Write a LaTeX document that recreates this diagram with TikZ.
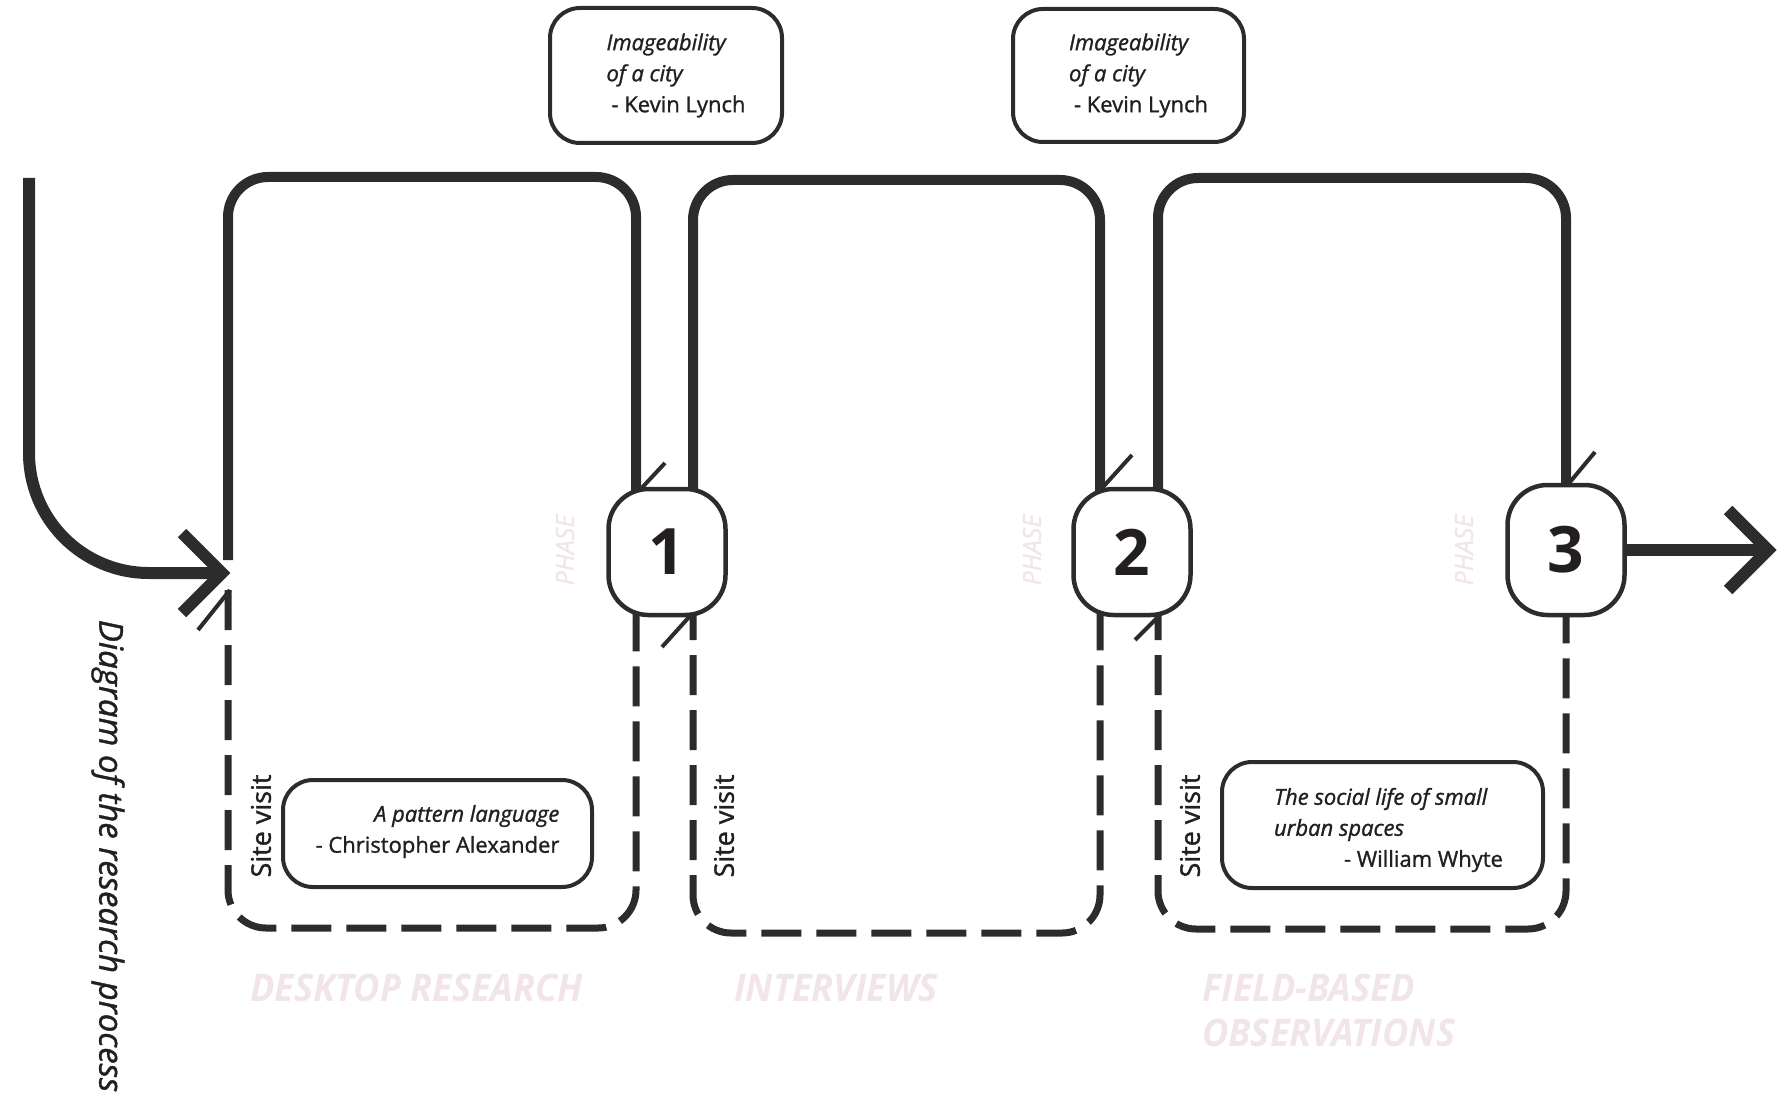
\documentclass[tikz,border=0pt]{standalone}
\usepackage{fontspec}
\setmainfont{Open Sans}[UprightFeatures={FakeBold=1.2}, ItalicFeatures={FakeBold=1.2}]
\newfontfamily\stagefont[FakeStretch=0.95]{Open Sans}
\usetikzlibrary{calc}
\definecolor{ink}{RGB}{43,45,44}
\definecolor{txt}{RGB}{35,31,32}
\definecolor{faint}{RGB}{241,228,235}
\begin{document}
\begin{tikzpicture}[x=1pt,y=-1pt,
  flow/.style={draw=ink, line width=12pt},
  flowtip/.style={draw=ink, line width=12pt, line join=miter, miter limit=10},
  loopsolid/.style={draw=ink, line width=10pt, rounded corners=40pt},
  loopdash/.style={draw=ink, line width=7pt, rounded corners=38pt, dash pattern=on 40pt off 15pt},
  barb/.style={draw=ink, line width=4pt},
  phasenode/.style={draw=ink, line width=4.5pt, fill=white, rounded corners=40pt,
    minimum width=117pt, minimum height=126pt, inner sep=0pt,
    font=\fontsize{64}{64}\selectfont\bfseries, text=txt},
  quotebox/.style={draw=ink, line width=4pt, fill=white, rounded corners=30pt, inner sep=0pt},
  quotetext/.style={inner sep=0pt, font=\fontsize{22}{31}\selectfont, text=txt},
  sitevisit/.style={rotate=90, font=\fontsize{27}{27}\selectfont, text=txt, inner sep=0pt},
  phaselabel/.style={rotate=90, font=\fontsize{25}{25}\selectfont\itshape, text=faint, inner sep=0pt},
  stage/.style={font=\stagefont\fontsize{38}{45}\selectfont\bfseries\itshape, text=faint,
    inner sep=0pt, anchor=base west}
]
\useasboundingbox (0,0) rectangle (1780,1094);

% incoming flow
\coordinate (start) at (29,178);
\coordinate (entry) at (222,573);
\draw[flow, rounded corners=120pt] (start) |- (entry);
\draw[flowtip] (entry) ++(-40,-40) -- (entry) -- ++(-40,40);

% phase loops: solid upper half, dashed lower half
\draw[loopsolid] (228,560) -- (228,177) -- (636,177) -- (636,520);
\draw[loopdash]  (228,590) -- (228,928) -- (636,928) -- (636,600);
\draw[loopsolid] (693,520) -- (693,180) -- (1100,180) -- (1100,520);
\draw[loopdash]  (693,600) -- (693,933) -- (1100,933) -- (1100,600);
\draw[loopsolid] (1158,520) -- (1158,178) -- (1566,178) -- (1566,520);
\draw[loopdash]  (1158,600) -- (1158,929) -- (1566,929) -- (1566,600);

% barbs on the loop ends
\draw[barb] (198,630) -- (230,590);
\draw[barb] (637,493) -- (665,463);
\draw[barb] (662,647) -- (690,616);
\draw[barb] (1103,487) -- (1132,455);
\draw[barb] (1135,640) -- (1158,617);
\draw[barb] (1570,482) -- (1595,452);

% phase markers
\node[phasenode] (n1) at (667,552) {1};
\node[phasenode] (n2) at (1132,552) {2};
\node[phasenode, minimum height=130pt] (n3) at (1566,550) {3};

% outgoing flow
\coordinate (exit) at (1768,550);
\draw[flow] (n3) -- (exit);
\draw[flowtip] (exit) ++(-40,-40) -- (exit) -- ++(-40,40);

% phase labels
\node[phaselabel] (p1) at (565,550) {PHASE};
\node[phaselabel] (p2) at (1032,550) {PHASE};
\node[phaselabel] (p3) at (1464,550) {PHASE};

% references
\node[quotebox, minimum width=232pt, minimum height=135pt] (lynch1) at (666,75.5) {};
\node[quotetext, align=left] (lynch1t) at ($(lynch1.center)+(10,0)$)
  {\textit{Imageability}\\\textit{of a city}\\\hspace*{5pt}- Kevin Lynch};
\node[quotebox, minimum width=231pt, minimum height=133pt] (lynch2) at (1128.5,75.5) {};
\node[quotetext, align=left] (lynch2t) at ($(lynch2.center)+(10,0)$)
  {\textit{Imageability}\\\textit{of a city}\\\hspace*{5pt}- Kevin Lynch};
\node[quotebox, minimum width=309pt, minimum height=107pt] (alexander) at (437.5,833.5) {};
\node[quotetext, align=right] (alexandert) at ($(alexander.center)+(0,-2)$)
  {\textit{A pattern language}\\- Christopher Alexander};
\node[quotebox, minimum width=321pt, minimum height=126pt] (whyte) at (1382.5,825) {};
\node[quotetext, align=left] (whytet) at ($(whyte.center)+(6,5)$)
  {\textit{The social life of small}\\\textit{urban spaces}\\\hspace*{70pt}- William Whyte};

% site visits
\node[sitevisit] (s1) at (261,826) {Site visit};
\node[sitevisit] (s2) at (724,826) {Site visit};
\node[sitevisit] (s3) at (1190,826) {Site visit};

% stage titles
\node[stage] (t1) at (250,1001) {DESKTOP RESEARCH};
\node[stage] (t2) at (734,1001) {INTERVIEWS};
\node[stage] (t3a) at (1202,1001) {FIELD-BASED};
\node[stage] (t3b) at (1202,1046) {OBSERVATIONS};

% caption
\node[rotate=-90, inner sep=0pt, font=\fontsize{33}{33}\selectfont\itshape, text=txt] (caption)
  at (108,856) {Diagram of the research process};
\end{tikzpicture}
\end{document}
